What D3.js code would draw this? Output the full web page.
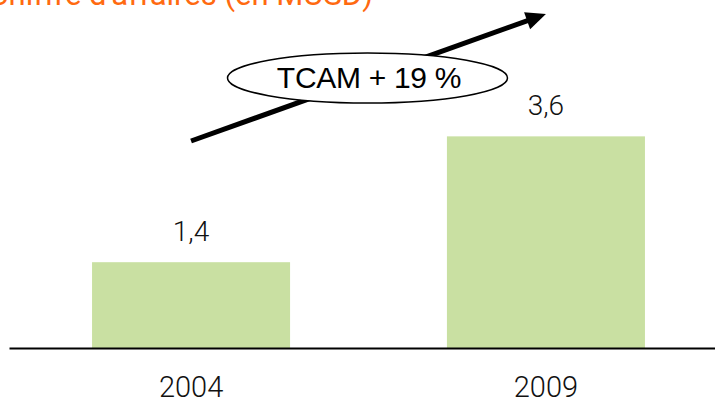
<!DOCTYPE html>
<html>
<head>
<meta charset="utf-8">
<script src="https://cdn.jsdelivr.net/npm/d3@7"></script>
<style>
  body { margin: 0; background: #fff; }
  svg { display: block; }
</style>
</head>
<body>
<div class="chart"></div>
<script>
const years = ['2004', '2009'];
const revenue = [1.4, 3.6];
const labels = ['1,4', '3,6'];
const title = "Chiffre d'affaires (en MUSD)";
const growthLabel = 'TCAM + 19 %';

const width = 715, height = 405;
const baseY = 348;
const yMin = -0.1;

const svg = d3.select('.chart')
  .append('svg')
    .attr('width', width)
    .attr('height', height);

const x = d3.scaleBand()
  .domain(years)
  .range([9, 728])
  .paddingInner(0.442)
  .paddingOuter(0.234);

const y = d3.scaleLinear()
  .domain([yMin, 4])
  .range([baseY, baseY - 4.1 * 57.2]);

// title, cut at the top like the original
svg.append('text')
  .attr('x', 373)
  .attr('y', 5)
  .attr('text-anchor', 'end')
  .style('font-family', 'Roboto, "Liberation Sans", sans-serif')
  .style('font-size', '31px')
  .style('fill', '#ff6a10')
  .text(title);

svg.selectAll('rect.bar')
  .data(revenue)
  .enter()
  .append('rect')
    .attr('class', 'bar')
    .attr('x', (d, i) => x(years[i]))
    .attr('y', d => y(d))
    .attr('width', x.bandwidth())
    .attr('height', d => y(yMin) - y(d))
    .style('fill', '#c9e0a2');

svg.selectAll('text.value')
  .data(revenue)
  .enter()
  .append('text')
    .attr('class', 'value')
    .attr('x', (d, i) => x(years[i]) + x.bandwidth() / 2)
    .attr('y', d => y(d) - 21)
    .attr('text-anchor', 'middle')
    .style('font-family', 'Roboto, sans-serif')
    .style('font-weight', 300)
    .style('font-size', '28px')
    .style('fill', '#111')
    .text((d, i) => labels[i]);

const axis = svg.append('g')
  .attr('transform', `translate(0,${baseY})`)
  .call(d3.axisBottom(x).tickSize(0).tickPadding(28));

axis.select('.domain')
  .attr('stroke', '#000')
  .attr('stroke-width', 2);

axis.selectAll('.tick text')
  .style('font-family', 'Roboto, sans-serif')
  .style('font-weight', 300)
  .style('font-size', '29px')
  .style('fill', '#111');

// growth arrow from first bar to second
const x0 = x(years[0]) + x.bandwidth() / 2;
const x1 = x(years[1]) + x.bandwidth() / 2;
const p0 = [x0, 141], p1 = [x1, 14];
const ang = Math.atan2(p1[1] - p0[1], p1[0] - p0[0]);
const headLen = 20, headW = 9;
const bx = p1[0] - headLen * Math.cos(ang), by = p1[1] - headLen * Math.sin(ang);

svg.append('line')
  .attr('x1', p0[0]).attr('y1', p0[1])
  .attr('x2', bx + 2 * Math.cos(ang)).attr('y2', by + 2 * Math.sin(ang))
  .attr('stroke', '#000')
  .attr('stroke-width', 5);

svg.append('polygon')
  .attr('points', [
    p1,
    [bx - headW * Math.sin(ang), by + headW * Math.cos(ang)],
    [bx + headW * Math.sin(ang), by - headW * Math.cos(ang)]
  ].map(p => p.join(',')).join(' '))
  .attr('fill', '#000');

svg.append('ellipse')
  .attr('cx', 367.5)
  .attr('cy', 78)
  .attr('rx', 140)
  .attr('ry', 25)
  .attr('fill', '#fff')
  .attr('stroke', '#000')
  .attr('stroke-width', 1.5);

svg.append('text')
  .attr('x', 369)
  .attr('y', 88)
  .attr('text-anchor', 'middle')
  .style('font-family', '"Liberation Sans", Arial, sans-serif')
  .style('font-size', '30px')
  .style('letter-spacing', '-0.3px')
  .style('fill', '#000')
  .text(growthLabel);
</script>
</body>
</html>
